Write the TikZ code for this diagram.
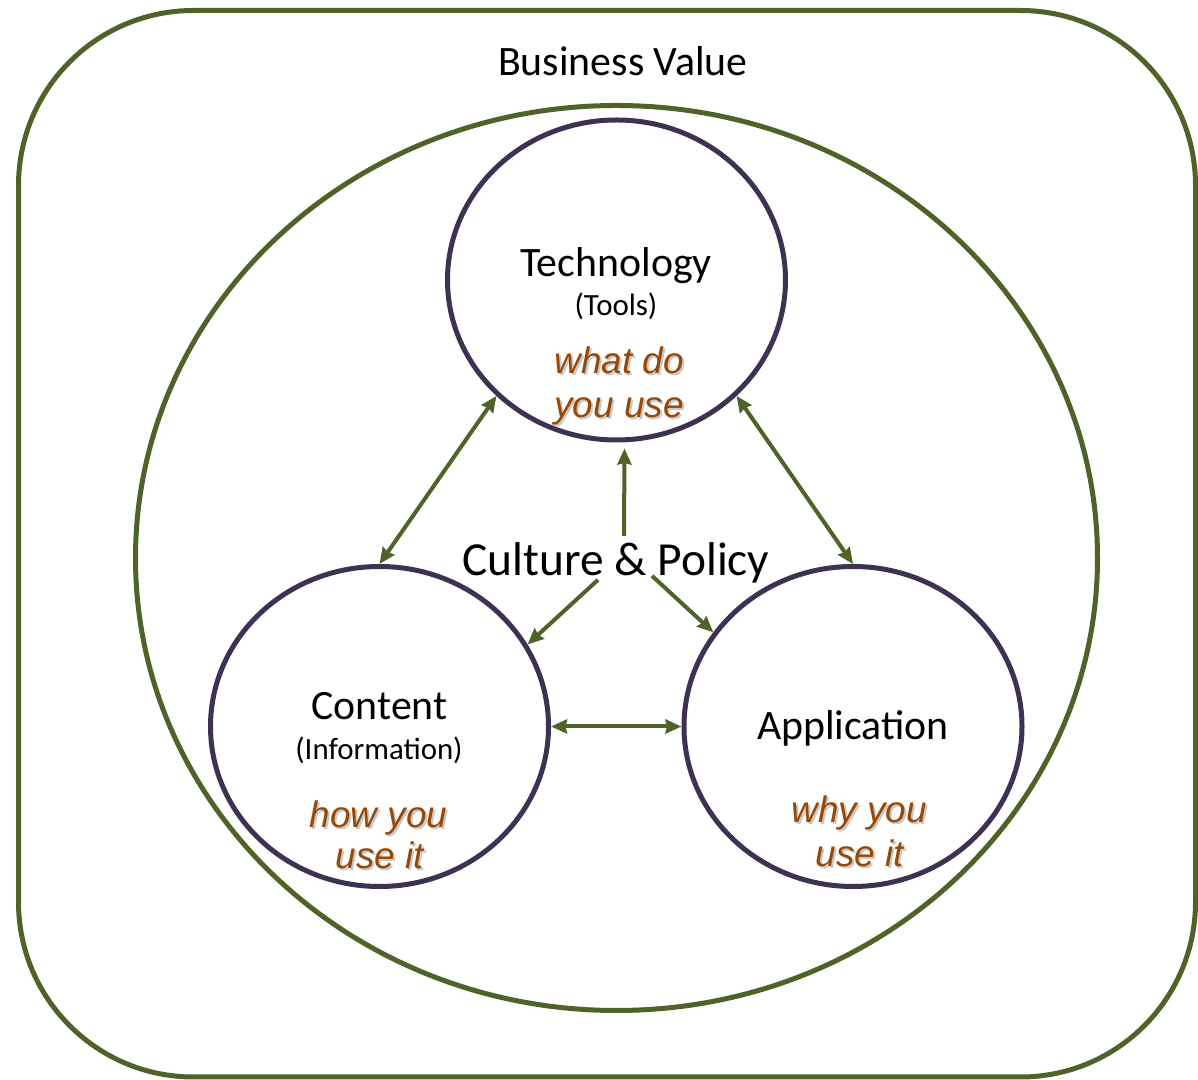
\documentclass[tikz,border=0pt]{standalone}
\usepackage{fontspec}
\setmainfont{Carlito}
\newfontfamily\arialfont{Liberation Sans}
\usetikzlibrary{arrows.meta}
\usetikzlibrary{shapes.geometric}

\definecolor{olivegreen}{HTML}{4F6228}
\definecolor{darkpurple}{HTML}{3F3151}
\definecolor{rustbrown}{HTML}{974806}

\tikzset{
  pillar/.style={ellipse, draw=darkpurple, line width=5bp, minimum width=338bp, minimum height=320bp, inner sep=0},
  link/.style={olivegreen, line width=4bp},
  title/.style={anchor=base, inner sep=0, font=\fontsize{42}{50}\selectfont},
  sub/.style={anchor=base, inner sep=0, font=\fontsize{31}{37}\selectfont},
  hint/.style={anchor=base, inner sep=0, text=rustbrown, font=\arialfont\itshape\fontsize{37}{44}\selectfont},
  hintshadow/.style={hint, text=black!30, opacity=.7},
}

\begin{document}
\begin{tikzpicture}[x=1bp, y=1bp, >={Stealth[length=16bp,width=14bp,inset=1.5bp]}]
\useasboundingbox (0,0) rectangle (1198,1080);
% outer frame and culture ellipse
\draw[olivegreen, line width=5bp, rounded corners=175bp] (18.5,3) rectangle (1195.5,1069.5);
\draw[olivegreen, line width=5bp] (616.5,522) ellipse [x radius=481, y radius=452.5];
\node[title] (bizvalue) at (623,1004) {Business Value};

% the three pillars
\node[pillar] (tech) at (616.5,800) {};
\node[pillar] (content) at (379.5,353.5) {};
\node[pillar] (app) at (853,353.5) {};

\node[title] (techname) at (616,803) {Technology};
\node[sub] (techsub) at (616,764) {(Tools)};
\node[title] (contentname) at (379.5,360) {Content};
\node[sub] (contentsub) at (379,320) {(Information)};
\node[title] (appname) at (853,340) {Application};

% brown hints with their soft shadow
\foreach \x/\y/\txt [count=\i] in {619/706/what do, 619/662/you use,
    378.5/252/how you, 380/211/use it, 859/257/why you, 860/213/use it} {
  \node[hintshadow] (hintshadow\i) at (\x+2,\y-2) {\txt};
  \node[hint] (hint\i) at (\x,\y) {\txt};
}

\node[anchor=base, inner sep=0, font=\fontsize{47.6}{57}\selectfont] (culture) at (616,504) {Culture \& Policy};

% connectors
\draw[link, <->] (tech.224) -- (content.north);
\draw[link, <->] (tech.316) -- (app.north);
\draw[link, ->] ([shift={(8,7)}]culture.north) -- ([shift={(8,-6)}]tech.south);
\draw[link, ->] ([shift={(-18,4)}]culture.south) -- (content.29);
\draw[link, ->] ([shift={(36,8)}]culture.south) -- (app.146);
\draw[link, <->] (content.east) -- (app.west);
\end{tikzpicture}
\end{document}
